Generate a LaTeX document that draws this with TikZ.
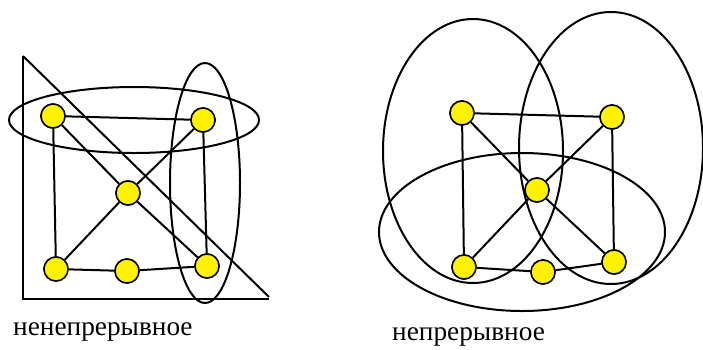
\documentclass[tikz,border=0pt]{standalone}
\usepackage{fontspec}
\setmainfont{Liberation Serif}
\begin{document}
\begin{tikzpicture}[x=1pt,y=-1pt,
  vtx/.style={circle,draw=black,fill=yellow,line width=1.5pt,minimum size=24pt,inner sep=0pt},
  edge/.style={line width=2pt},
  grp/.style={line width=2pt},
  lbl/.style={font=\fontsize{27.3}{30}\selectfont,inner sep=0pt,anchor=west}]
\useasboundingbox (0,0) rectangle (703,349);
% left triangle
\coordinate (t1) at (23,56);
\coordinate (t2) at (23,299);
\coordinate (t3) at (269,299);
\coordinate (t4) at (269,297);
\draw[edge] (t1) -- (t2) -- (t3);
\draw[edge] (t1) -- (t4);
% left graph
\node[vtx] (a1) at (53,116) {};
\node[vtx] (a2) at (203,120) {};
\node[vtx] (a3) at (128,193) {};
\node[vtx] (a4) at (56,269) {};
\node[vtx] (a5) at (127,271) {};
\node[vtx] (a6) at (207,266) {};
\draw[edge] (a1) -- (a2) (a1) -- (a4) (a1) -- (a3) (a3) -- (a6)
  (a2) -- (a3) (a3) -- (a4) (a2) -- (a6) (a4) -- (a5) (a5) -- (a6);
\node[vtx] at (a1) {};\node[vtx] at (a2) {};\node[vtx] at (a3) {};
\node[vtx] at (a4) {};\node[vtx] at (a5) {};\node[vtx] at (a6) {};
\draw[grp] (134,120) ellipse [x radius=125, y radius=33];
\draw[grp] (205,183) ellipse [x radius=35, y radius=120];
% right graph
\node[vtx] (b1) at (462,113) {};
\node[vtx] (b2) at (612,117) {};
\node[vtx] (b3) at (537,190) {};
\node[vtx] (b4) at (464,267) {};
\node[vtx] (b5) at (543,272) {};
\node[vtx] (b6) at (614,262) {};
\draw[edge] (b1) -- (b2) (b1) -- (b4) (b1) -- (b3) (b3) -- (b6)
  (b2) -- (b3) (b3) -- (b4) (b2) -- (b6) (b4) -- (b5) (b5) -- (b6);
\node[vtx] at (b1) {};\node[vtx] at (b2) {};\node[vtx] at (b3) {};
\node[vtx] at (b4) {};\node[vtx] at (b5) {};\node[vtx] at (b6) {};
\draw[grp] (473,151) ellipse [x radius=90, y radius=132];
\draw[grp] (611,148) ellipse [x radius=92, y radius=136];
\draw[grp] (522,232) ellipse [x radius=143, y radius=79];
% labels
\node[lbl] (l1) at (13,332) {ненепрерывное};
\node[lbl] (l2) at (392,337) {непрерывное};
\end{tikzpicture}
\end{document}
